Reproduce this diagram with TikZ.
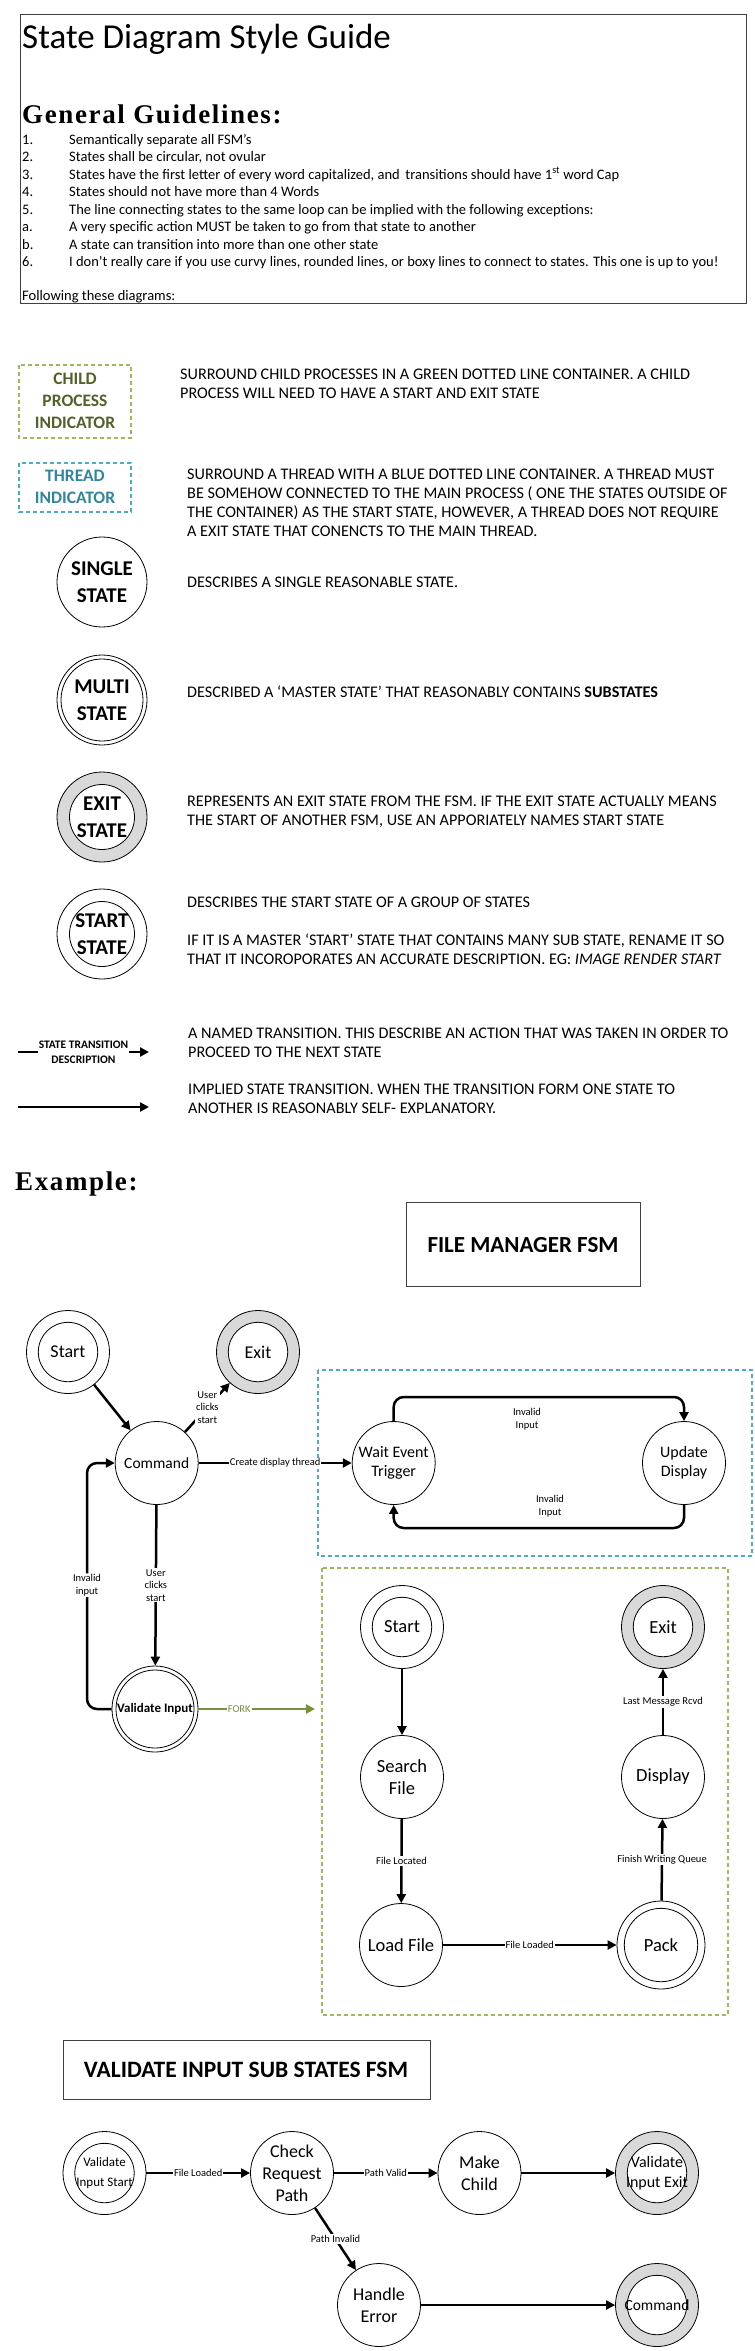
\documentclass[tikz,border=0pt]{standalone}
\usepackage{fontspec}
\setmainfont{Carlito}
\newfontfamily\headfont[LetterSpace=6.0]{Liberation Serif}
\usetikzlibrary{arrows.meta}
\definecolor{childgreen}{HTML}{9BBB59}
\definecolor{childtext}{HTML}{4F6228}
\definecolor{threadblue}{HTML}{4BACC6}
\definecolor{threadtext}{HTML}{31859C}
\definecolor{forkgreen}{HTML}{76923C}
\definecolor{ringgray}{HTML}{D9D9D9}
\newcommand{\fsz}[2]{\fontsize{#1}{#2}\selectfont}

\begin{document}
\begin{tikzpicture}[x=1pt, y=-1pt,
	plainstate/.style={circle, draw, line width=0.8pt, minimum size=83pt, inner sep=0pt, align=center, font=\fsz{16}{19}},
	multistate/.style={plainstate, path picture={\draw[line width=0.8pt] (path picture bounding box.center) circle[radius=#1];}},
	multistate/.default=29.7pt,
	exitstate/.style={plainstate, fill=ringgray, path picture={\draw[line width=0.8pt, fill=white] (path picture bounding box.center) circle[radius=#1];}},
	exitstate/.default=29.7pt,
	legendstate/.style={minimum size=90pt, font=\bfseries\fsz{21}{27}},
	trans/.style={-{Triangle[length=9pt,width=9pt]}, line width=2.5pt},
	translabel/.style={fill=white, inner sep=1pt, align=center, font=\fsz{10.5}{12.5}},
	legendtext/.style={anchor=west, inner sep=0pt, align=left, font=\fsz{16.2}{19}},
	listtext/.style={anchor=base west, inner sep=0pt, font=\fsz{14.5}{17}},
	container/.style={line width=2.3pt, dash pattern=on 4pt off 3pt},
	titlebox/.style={draw=black!75, line width=1pt}
	]
	\useasboundingbox (0,0) rectangle (755,2351);
	
	% guidelines
	\draw [titlebox] (20,14) rectangle (746,303);
	\node [anchor=base west, inner sep=0pt, font=\fsz{35}{40}] (title) at (22,48) {State Diagram Style Guide};
	\node [anchor=base west, inner sep=0pt, font=\headfont\bfseries\fsz{27}{30}] (general) at (22,123) {General Guidelines:};
	\node [listtext] (num1) at (22,144) {1.};
	\node [listtext] (item1) at (69,144) {Semantically separate all FSM’s};
	\node [listtext] (num2) at (22,161.5) {2.};
	\node [listtext] (item2) at (69,161.5) {States shall be circular, not ovular};
	\node [listtext] (num3) at (22,179) {3.};
	\node [listtext] (item3) at (69,179) {States have the first letter of every word capitalized, and\, transitions should have 1\textsuperscript{st} word Cap};
	\node [listtext] (num4) at (22,196.5) {4.};
	\node [listtext] (item4) at (69,196.5) {States should not have more than 4 Words};
	\node [listtext] (num5) at (22,214) {5.};
	\node [listtext] (item5) at (69,214) {The line connecting states to the same loop can be implied with the following exceptions:};
	\node [listtext] (numa) at (22,231.5) {a.};
	\node [listtext] (itema) at (69,231.5) {A very specific action MUST be taken to go from that state to another};
	\node [listtext] (numb) at (22,249) {b.};
	\node [listtext] (itemb) at (69,249) {A state can transition into more than one other state};
	\node [listtext] (num6) at (22,266.5) {6.};
	\node [listtext] (item6) at (69,266.5) {I don’t really care if you use curvy lines, rounded lines, or boxy lines to connect to states. This one is up to you!};
	\node [listtext] (follow) at (22,300) {Following these diagrams:};
	
	% legend
	\draw [container, childgreen] (19,365) rectangle (131,438);
	\node [align=center, text=childtext, font=\bfseries\fsz{17.5}{22}] (childind) at (75,401) {CHILD\\PROCESS\\INDICATOR};
	\node [legendtext] (childtxt) at (180,383.5) {SURROUND CHILD PROCESSES IN A GREEN DOTTED LINE CONTAINER. A CHILD\\PROCESS WILL NEED TO HAVE A START AND EXIT STATE};
	
	\draw [container, threadblue] (19,463) rectangle (131,512);
	\node [align=center, text=threadtext, font=\bfseries\fsz{17.5}{22}] (threadind) at (75,487) {THREAD\\INDICATOR};
	\node [legendtext] (threadtxt) at (187,502.5) {SURROUND A THREAD WITH A BLUE DOTTED LINE CONTAINER. A THREAD MUST\\BE SOMEHOW CONNECTED TO THE MAIN PROCESS ( ONE THE STATES OUTSIDE OF\\THE CONTAINER) AS THE START STATE, HOWEVER, A THREAD DOES NOT REQUIRE\\A EXIT STATE THAT CONENCTS TO THE MAIN THREAD.};
	
	\node [plainstate, legendstate] (single) at (102,582) {SINGLE\\STATE};
	\node [legendtext] (singletxt) at (187,582) {DESCRIBES A SINGLE REASONABLE STATE.};
	
	\node [multistate=41pt, legendstate] (multi) at (102,700) {MULTI\\STATE};
	\node [legendtext] (multitxt) at (187,692) {DESCRIBED A ‘MASTER STATE’ THAT REASONABLY CONTAINS \textbf{SUBSTATES}};
	
	\node [exitstate=32.5pt, legendstate] (exitleg) at (102,817) {EXIT\\STATE};
	\node [legendtext] (exittxt) at (187,811.5) {REPRESENTS AN EXIT STATE FROM THE FSM. IF THE EXIT STATE ACTUALLY MEANS\\THE START OF ANOTHER FSM, USE AN APPORIATELY NAMES START STATE};
	
	\node [multistate=32.5pt, legendstate] (startleg) at (102,934) {START\\STATE};
	\node [legendtext] (starttxt) at (187,902) {DESCRIBES THE START STATE OF A GROUP OF STATES};
	\node [legendtext] (mastertxt) at (187,949.5) {IF IT IS A MASTER ‘START’ STATE THAT CONTAINS MANY SUB STATE, RENAME IT SO\\THAT IT INCOROPORATES AN ACCURATE DESCRIPTION. EG: \textit{IMAGE RENDER START}};
	
	\coordinate (namedA) at (18,1052);
	\coordinate (namedB) at (149,1052);
	\draw [trans] (namedA) -- node [translabel, font=\bfseries\fsz{11.5}{15}] {STATE TRANSITION\\DESCRIPTION} (namedB);
	\node [legendtext] (namedtxt) at (188,1043) {A NAMED TRANSITION. THIS DESCRIBE AN ACTION THAT WAS TAKEN IN ORDER TO\\PROCEED TO THE NEXT STATE};
	
	\coordinate (impliedA) at (18,1107);
	\coordinate (impliedB) at (149,1107);
	\draw [trans] (impliedA) -- (impliedB);
	\node [legendtext] (impliedtxt) at (188,1098.5) {IMPLIED STATE TRANSITION. WHEN THE TRANSITION FORM ONE STATE TO\\ANOTHER IS REASONABLY SELF- EXPLANATORY.};
	
	% file manager fsm
	\node [anchor=base west, inner sep=0pt, font=\headfont\bfseries\fsz{27}{30}] (example) at (15,1190) {Example:};
	\draw [titlebox] (406,1202) rectangle (640,1286);
	\node [font=\bfseries\fsz{23}{26}] (fmtitle) at (523,1245) {FILE MANAGER FSM};
	
	\draw [container, threadblue] (318,1370) rectangle (752,1556);
	\draw [container, childgreen] (322,1568) rectangle (728,2015);
	
	\node [multistate, font=\fsz{18}{21}] (start) at (68,1352) {Start};
	\node [exitstate, font=\fsz{18}{21}] (exit) at (258,1352) {Exit};
	\node [plainstate, font=\fsz{15.5}{19}] (command) at (156.7,1463) {Command};
	\node [plainstate] (wait) at (393.7,1463) {Wait Event\\Trigger};
	\node [plainstate] (update) at (684,1463) {Update\\Display};
	\node [multistate=39pt, minimum size=86pt, font=\bfseries\fsz{13}{16}] (validate) at (155,1709) {Validate Input};
	\coordinate (forkend) at (315,1709);
	\coordinate (looptop) at (540,1397);
	\coordinate (loopbot) at (540,1528);
	\coordinate (loopleft) at (87,1585);
	
	\draw [trans] (start) -- (command);
	\draw [trans] (command) -- node [translabel] {User\\clicks\\start} (exit);
	\draw [trans] (command) -- node [translabel] {Create display thread} (wait);
	\draw [trans, rounded corners=10pt] (wait.north) |- (looptop) -| (update.north);
	\draw [trans, rounded corners=10pt] (update.south) |- (loopbot) -| (wait.south);
	\node [align=center, font=\fsz{10.5}{12.5}] (invtop) at (527,1419) {Invalid\\Input};
	\node [align=center, font=\fsz{10.5}{12.5}] (invbot) at (550,1506) {Invalid\\Input};
	\draw [trans] (command) -- node [translabel] {User\\clicks\\start} (validate);
	\draw [trans, rounded corners=10pt] (validate.west) -| (loopleft) node [translabel] {Invalid\\input} |- (command.west);
	\draw [trans, forkgreen] (validate) -- node [translabel, text=forkgreen, pos=0.35] {FORK} (forkend);
	
	% child process
	\node [multistate, font=\fsz{18.5}{22}] (cstart) at (402,1627) {Start};
	\node [exitstate, font=\fsz{18.5}{22}] (cexit) at (663,1627) {Exit};
	\node [plainstate, font=\fsz{18.5}{22}] (search) at (402,1777) {Search\\File};
	\node [plainstate, font=\fsz{18.5}{22}] (display) at (663,1777) {Display};
	\node [plainstate, font=\fsz{18.5}{22}] (load) at (401,1945) {Load File};
	\node [multistate=36.7pt, minimum size=88pt, font=\fsz{18.5}{22}] (pack) at (661,1945) {Pack};
	
	\draw [trans] (cstart) -- (search);
	\draw [trans] (search) -- node [translabel] {File Located} (load);
	\draw [trans] (load) -- node [translabel] {File Loaded} (pack);
	\draw [trans] (pack) -- node [translabel] {Finish Writing Queue} (display);
	\draw [trans] (display) -- node [translabel] {Last Message Rcvd} (cexit);
	
	% validate input sub states
	\draw [titlebox] (63,2040) rectangle (430,2099);
	\node [font=\bfseries\fsz{23.5}{26}] (vititle) at (246,2070) {VALIDATE INPUT SUB STATES FSM};
	
	\node [multistate, font=\fsz{13}{20}] (vstart) at (104.5,2173) {Validate\\Input Start};
	\node [plainstate, font=\fsz{18}{22}] (check) at (292,2173) {Check\\Request\\Path};
	\node [plainstate, font=\fsz{18}{22}] (make) at (479.5,2173) {Make\\Child};
	\node [exitstate, font=\fsz{16}{19.5}] (vexit) at (657,2173) {Validate\\Input Exit};
	\node [plainstate, font=\fsz{18}{22}] (handle) at (379,2305) {Handle\\Error};
	\node [exitstate, font=\fsz{15.5}{19}] (vcommand) at (657,2305) {Command};
	
	\draw [trans] (vstart) -- node [translabel] {File Loaded} (check);
	\draw [trans] (check) -- node [translabel] {Path Valid} (make);
	\draw [trans] (make) -- (vexit);
	\draw [trans] (check) -- node [translabel] {Path Invalid} (handle);
	\draw [trans] (handle) -- (vcommand);
	
\end{tikzpicture}
\end{document}
